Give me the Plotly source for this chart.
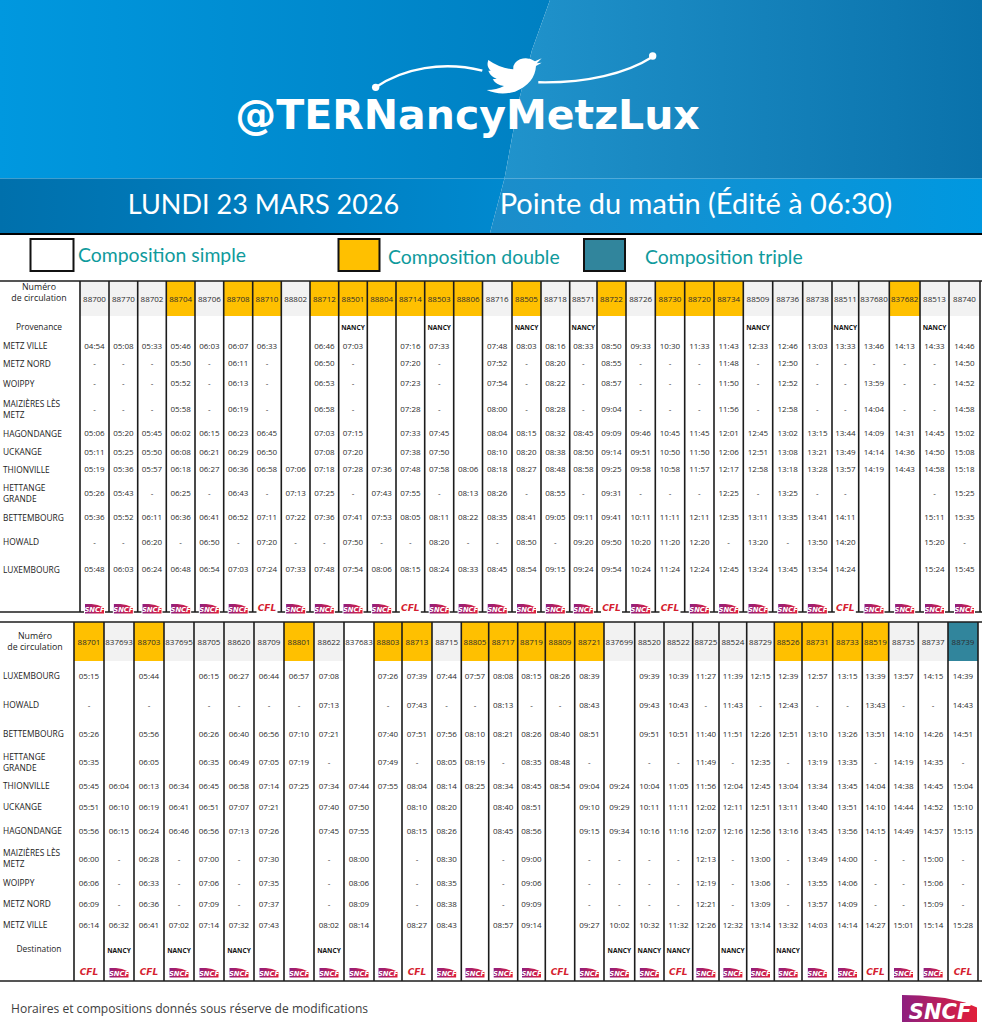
import plotly.graph_objects as go

# ---------- data ----------
TOP_TRAINS = ["88700","88770","88702","88704","88706","88708","88710","88802","88712","88501","88804","88714","88503","88806","88716","88505","88718","88571","88722","88726","88730","88720","88734","88509","88736","88738","88511","837680","837682","88513","88740"]
TOP_DOUBLE = ["88704","88708","88710","88712","88501","88804","88714","88503","88806","88505","88722","88730","88720","88734","837682"]
TOP_CFL = ["88710","88714","88722","88730","88511"]
TOP_ORIGIN_NANCY = ["88501","88503","88505","88571","88509","88511","88513"]

T_METZ_VILLE = ["04:54","05:08","05:33","05:46","06:03","06:07","06:33","","06:46","07:03","","07:16","07:33","","07:48","08:03","08:16","08:33","08:50","09:33","10:30","11:33","11:43","12:33","12:46","13:03","13:33","13:46","14:13","14:33","14:46"]
T_METZ_NORD = ["-","-","-","05:50","-","06:11","-","","06:50","-","","07:20","-","","07:52","-","08:20","-","08:55","-","-","-","11:48","-","12:50","-","-","-","-","-","14:50"]
T_WOIPPY = ["-","-","-","05:52","-","06:13","-","","06:53","-","","07:23","-","","07:54","-","08:22","-","08:57","-","-","-","11:50","-","12:52","-","-","13:59","-","-","14:52"]
T_MAIZIERES = ["-","-","-","05:58","-","06:19","-","","06:58","-","","07:28","-","","08:00","-","08:28","-","09:04","-","-","-","11:56","-","12:58","-","-","14:04","-","-","14:58"]
T_HAGONDANGE = ["05:06","05:20","05:45","06:02","06:15","06:23","06:45","","07:03","07:15","","07:33","07:45","","08:04","08:15","08:32","08:45","09:09","09:46","10:45","11:45","12:01","12:45","13:02","13:15","13:44","14:09","14:31","14:45","15:02"]
T_UCKANGE = ["05:11","05:25","05:50","06:08","06:21","06:29","06:50","","07:08","07:20","","07:38","07:50","","08:10","08:20","08:38","08:50","09:14","09:51","10:50","11:50","12:06","12:51","13:08","13:21","13:49","14:14","14:36","14:50","15:08"]
T_THIONVILLE = ["05:19","05:36","05:57","06:18","06:27","06:36","06:58","07:06","07:18","07:28","07:36","07:48","07:58","08:06","08:18","08:27","08:48","08:58","09:25","09:58","10:58","11:57","12:17","12:58","13:18","13:28","13:57","14:19","14:43","14:58","15:18"]
T_HETTANGE = ["05:26","05:43","-","06:25","-","06:43","-","07:13","07:25","-","07:43","07:55","-","08:13","08:26","-","08:55","-","09:31","-","-","-","12:25","-","13:25","-","-","","","-","15:25"]
T_BETTEMBOURG = ["05:36","05:52","06:11","06:36","06:41","06:52","07:11","07:22","07:36","07:41","07:53","08:05","08:11","08:22","08:35","08:41","09:05","09:11","09:41","10:11","11:11","12:11","12:35","13:11","13:35","13:41","14:11","","","15:11","15:35"]
T_HOWALD = ["-","-","06:20","-","06:50","-","07:20","-","-","07:50","-","-","08:20","-","-","08:50","-","09:20","09:50","10:20","11:20","12:20","-","13:20","-","13:50","14:20","","","15:20","-"]
T_LUXEMBOURG = ["05:48","06:03","06:24","06:48","06:54","07:03","07:24","07:33","07:48","07:54","08:06","08:15","08:24","08:33","08:45","08:54","09:15","09:24","09:54","10:24","11:24","12:24","12:45","13:24","13:45","13:54","14:24","","","15:24","15:45"]

BOT_TRAINS = ["88701","837693","88703","837695","88705","88620","88709","88801","88622","837683","88803","88713","88715","88805","88717","88719","88809","88721","837699","88520","88522","88725","88524","88729","88526","88731","88733","88519","88735","88737","88739"]
BOT_DOUBLE = ["88701","88703","88801","88803","88713","88805","88717","88719","88809","88721","88526","88731","88733","88519"]
BOT_TRIPLE = ["88739"]
BOT_WHITE = ["837683"]
BOT_CFL = ["88701","88703","88713","88809","88522","88519","88739"]
BOT_DEST_NANCY = ["837693","837695","88620","88622","837699","88520","88522","88524","88526"]

B_LUXEMBOURG = ["05:15","","05:44","","06:15","06:27","06:44","06:57","07:08","","07:26","07:39","07:44","07:57","08:08","08:15","08:26","08:39","","09:39","10:39","11:27","11:39","12:15","12:39","12:57","13:15","13:39","13:57","14:15","14:39"]
B_HOWALD = ["-","","-","","-","-","-","-","07:13","","-","07:43","-","-","08:13","-","-","08:43","","09:43","10:43","-","11:43","-","12:43","-","-","13:43","-","-","14:43"]
B_BETTEMBOURG = ["05:26","","05:56","","06:26","06:40","06:56","07:10","07:21","","07:40","07:51","07:56","08:10","08:21","08:26","08:40","08:51","","09:51","10:51","11:40","11:51","12:26","12:51","13:10","13:26","13:51","14:10","14:26","14:51"]
B_HETTANGE = ["05:35","","06:05","","06:35","06:49","07:05","07:19","-","","07:49","-","08:05","08:19","-","08:35","08:48","-","","-","-","11:49","-","12:35","-","13:19","13:35","-","14:19","14:35","-"]
B_THIONVILLE = ["05:45","06:04","06:13","06:34","06:45","06:58","07:14","07:25","07:34","07:44","07:55","08:04","08:14","08:25","08:34","08:45","08:54","09:04","09:24","10:04","11:05","11:56","12:04","12:45","13:04","13:34","13:45","14:04","14:38","14:45","15:04"]
B_UCKANGE = ["05:51","06:10","06:19","06:41","06:51","07:07","07:21","","07:40","07:50","","08:10","08:20","","08:40","08:51","","09:10","09:29","10:11","11:11","12:02","12:11","12:51","13:11","13:40","13:51","14:10","14:44","14:52","15:10"]
B_HAGONDANGE = ["05:56","06:15","06:24","06:46","06:56","07:13","07:26","","07:45","07:55","","08:15","08:26","","08:45","08:56","","09:15","09:34","10:16","11:16","12:07","12:16","12:56","13:16","13:45","13:56","14:15","14:49","14:57","15:15"]
B_MAIZIERES = ["06:00","-","06:28","-","07:00","-","07:30","","-","08:00","","-","08:30","","-","09:00","","-","-","-","-","12:13","-","13:00","-","13:49","14:00","-","-","15:00","-"]
B_WOIPPY = ["06:06","-","06:33","-","07:06","-","07:35","","-","08:06","","-","08:35","","-","09:06","","-","-","-","-","12:19","-","13:06","-","13:55","14:06","-","-","15:06","-"]
B_METZ_NORD = ["06:09","-","06:36","-","07:09","-","07:37","","-","08:09","","-","08:38","","-","09:09","","-","-","-","-","12:21","-","13:09","-","13:57","14:09","-","-","15:09","-"]
B_METZ_VILLE = ["06:14","06:32","06:41","07:02","07:14","07:32","07:43","","08:02","08:14","","08:27","08:43","","08:57","09:14","","09:27","10:02","10:32","11:32","12:26","12:32","13:14","13:32","14:03","14:14","14:27","15:01","15:14","15:28"]

TOP_ROWS = [T_METZ_VILLE,T_METZ_NORD,T_WOIPPY,T_MAIZIERES,T_HAGONDANGE,T_UCKANGE,T_THIONVILLE,T_HETTANGE,T_BETTEMBOURG,T_HOWALD,T_LUXEMBOURG]
TOP_LABELS = ["METZ VILLE","METZ NORD","WOIPPY","MAIZIÈRES LÈS<br>METZ","HAGONDANGE","UCKANGE","THIONVILLE","HETTANGE<br>GRANDE","BETTEMBOURG","HOWALD","LUXEMBOURG"]
BOT_ROWS = [B_LUXEMBOURG,B_HOWALD,B_BETTEMBOURG,B_HETTANGE,B_THIONVILLE,B_UCKANGE,B_HAGONDANGE,B_MAIZIERES,B_WOIPPY,B_METZ_NORD,B_METZ_VILLE]
BOT_LABELS = ["LUXEMBOURG","HOWALD","BETTEMBOURG","HETTANGE<br>GRANDE","THIONVILLE","UCKANGE","HAGONDANGE","MAIZIÈRES LÈS<br>METZ","WOIPPY","METZ NORD","METZ VILLE"]

# ---------- page layout (pixels) ----------
TOP_EDGES = [80,109,137.7,166.3,195,223.7,252.7,281.3,310,338.7,367.3,396,424.7,453.7,482.5,512,541,569.7,597,626,655.3,684.7,714,743.3,772.7,802.7,832,858.7,889.3,920,949,980]
BOT_EDGES = [74,104,134,164,194,224,254,284,314,344,374,402,432,461.3,488.7,517.7,545.3,574.7,604,634.7,664,692.7,719,746.7,774.3,802,832.7,862.3,888.7,918.3,948,978]
TOP_Y = [347,364,384,410,434,453,470,494,518,543,570]
TOP_LABEL_Y = [347,365,385,410.5,435,453,471,494.5,519,543,571]
BOT_Y = [677,706,735,763,787,808,832,860,884,905,926]
BOT_LABEL_Y = [677,706,735,763,787,808,832,859.5,884,905,926]
GOLD, TEAL, GREY = "#FFC000", "#31859C", "#F2F2F2"
TXT = "#2c2c2c"
FONT = "Open Sans"

fig = go.Figure()
shapes = []

def rect(x0, y0, x1, y1, fill, line=None, lw=0):
    shapes.append(dict(type="rect", x0=x0, y0=y0, x1=x1, y1=y1, xref="x", yref="y", layer="below",
                       fillcolor=fill, line=dict(color=line or fill, width=lw)))

def seg(x0, y0, x1, y1, w=1.6, c="#1c1c1c"):
    shapes.append(dict(type="line", x0=x0, y0=y0, x1=x1, y1=y1, xref="x", yref="y", layer="below",
                       line=dict(color=c, width=w)))

def gradient_poly(xs, ys, c0, c1):
    fig.add_trace(go.Scatter(x=xs, y=ys, mode="lines", fill="toself", line=dict(width=0), hoverinfo="skip",
                             fillgradient=dict(type="horizontal", colorscale=[[0, c0], [1, c1]]), showlegend=False))

def text(xs, ys, ts, size, color=TXT, family=FONT, pos="middle center", weight=None, style=None):
    f = dict(size=size, color=color, family=family)
    if weight: f["weight"] = weight
    if style: f["style"] = style
    fig.add_trace(go.Scatter(x=xs, y=ys, text=ts, mode="text", textposition=pos, textfont=f,
                             hoverinfo="skip", showlegend=False))

# ---------- banner ----------
gradient_poly([0, 550, 532, 519, 504.5, 0], [0, 0, 50, 100, 178.5, 178.5], "#0098DF", "#0080C2")
gradient_poly([550, 982, 982, 504.5, 519, 532], [0, 0, 178.5, 178.5, 100, 50], "#2093CC", "#0A72AB")
gradient_poly([0, 504.5, 490, 0], [178.5, 178.5, 233, 233], "#0070AC", "#0089CF")
gradient_poly([504.5, 982, 982, 490], [178.5, 178.5, 233, 233], "#1C8DCA", "#0098E0")

def P(X, Y):
    return f"{360 + X / 3:.1f},{40 + Y / 3:.1f}"

def bez(p0, p1, p2, p3):
    return f"M{P(*p0)} C{P(*p1)} {P(*p2)} {P(*p3)}"

for d in (bez((47, 142), (130, 85), (250, 62), (367, 92)), bez((535, 127), (680, 130), (800, 100), (878, 50))):
    shapes.append(dict(type="path", path=d, xref="x", yref="y", layer="above", line=dict(color="white", width=2.4)))
for cx, cy in ((47, 142), (878, 48)):
    x, y = 360 + cx / 3, 40 + cy / 3
    shapes.append(dict(type="circle", x0=x - 3.7, x1=x + 3.7, y0=y - 3.7, y1=y + 3.7, xref="x", yref="y",
                       layer="above", fillcolor="white", line=dict(width=0)))
bird = (f"M{P(545,55)} L{P(525,64)} Q{P(505,50)} {P(480,58)} Q{P(458,68)} {P(460,88)} Q{P(420,85)} {P(385,60)} "
        f"Q{P(378,80)} {P(392,92)} L{P(385,92)} Q{P(392,110)} {P(410,116)} L{P(398,118)} Q{P(408,135)} {P(432,138)} "
        f"Q{P(410,150)} {P(380,150)} Q{P(420,168)} {P(465,155)} Q{P(525,130)} {P(528,78)} L{P(545,68)} L{P(530,70)} Z")
shapes.append(dict(type="path", path=bird, xref="x", yref="y", layer="above", fillcolor="white", line=dict(width=0)))

text([467.5], [119], ["@TERNancyMetzLux"], 41, "white", "DejaVu Sans", weight=700)
text([263.5], [207], ["LUNDI 23 MARS 2026"], 27, "white", "Lato")
text([696], [207], ["Pointe du matin (Édité à 06:30)"], 29, "white", "Lato")

# ---------- legend ----------
seg(0, 234, 982, 234, 2, "#000000")
rect(30.5, 239, 73.5, 271, "white", "#111111", 2)
rect(338.5, 239, 379.5, 271, GOLD, "#111111", 2)
rect(584, 239, 625, 271, TEAL, "#111111", 2)
LEG = "#109A9C"
text([78, 388, 645], [257, 259, 259], ["Composition simple", "Composition double", "Composition triple"],
     19.4, LEG, "Lato", pos="middle right")

# ---------- tables ----------
def draw_table(trains, edges, rows, ys, labels, label_ys, y_top, y_band, y_bot, header_y, numero_ys, numero_x,
               gold, teal, white, cfl, nancy, nancy_y, side_label, side_y, logo_y):
    centers = [(a + b) / 2 for a, b in zip(edges[:-1], edges[1:])]
    for i, tr in enumerate(trains):
        fill = GOLD if tr in gold else TEAL if tr in teal else "white" if tr in white else GREY
        rect(edges[i], y_top, edges[i + 1], y_band, fill)
    for e in edges:
        seg(e, y_top, e, y_bot)
    seg(0, y_top, 982, y_top)
    seg(0, y_bot, 982, y_bot)
    text(centers, [header_y] * len(trains), trains, 8)
    xs, yy, ts = [], [], []
    for row, y in zip(rows, ys):
        for c, v in zip(centers, row):
            if v:
                xs.append(c); yy.append(y); ts.append(v)
    text(xs, yy, ts, 8)
    text([3] * len(labels), label_ys, labels, 8.4, "#1c1c1c", pos="middle right")
    text([numero_x, numero_x], numero_ys, ["Numéro", "de circulation"], 8.8, "#1c1c1c")
    text([39], [side_y], [side_label], 8.4, "#1c1c1c")
    nx = [centers[trains.index(t)] for t in nancy]
    text(nx, [nancy_y] * len(nx), ["NANCY"] * len(nx), 6.6, "#111111", weight=700)
    # operators' logos
    bx, by = [], []
    for c in centers:
        bx += [c - 10.5, c + 10.5, c + 10.5, c - 10.5, None]
        by += [logo_y - 6, logo_y - 6, logo_y + 5.5, logo_y + 5.5, None]
    fig.add_trace(go.Scatter(x=bx, y=by, mode="lines", fill="toself", fillcolor="white", line=dict(width=0),
                             hoverinfo="skip", showlegend=False))
    sx, cx = [], []
    for c, tr in zip(centers, trains):
        (cx if tr in cfl else sx).append(c)
        if tr not in cfl:
            gradient_poly([c - 9.5, c - 3, c + 3, c + 9.5, c + 9.5, c - 9.5],
                          [logo_y - 5, logo_y - 5, logo_y - 4, logo_y - 1.5, logo_y + 4.5, logo_y + 4.5],
                          "#8E1F7F", "#E11F3A")
    text(sx, [logo_y + 1] * len(sx), ["SNCF"] * len(sx), 6.8, "white", "DejaVu Sans", weight=700, style="italic")
    text(cx, [logo_y] * len(cx), ["CFL"] * len(cx), 9, "#D5202F", "DejaVu Sans", weight=700, style="italic")

draw_table(TOP_TRAINS, TOP_EDGES, TOP_ROWS, TOP_Y, TOP_LABELS, TOP_LABEL_Y, 281, 316, 612, 300, [287.5, 298.5], 39,
           TOP_DOUBLE, [], [], TOP_CFL, TOP_ORIGIN_NANCY, 328, "Provenance", 328, 609)
draw_table(BOT_TRAINS, BOT_EDGES, BOT_ROWS, BOT_Y, BOT_LABELS, BOT_LABEL_Y, 622, 661, 981, 642.5, [636.5, 647.5], 35,
           BOT_DOUBLE, BOT_TRIPLE, BOT_WHITE, BOT_CFL, BOT_DEST_NANCY, 951, "Destination", 949.5, 973)

# ---------- footer ----------
text([11], [1010], ["Horaires et compositions donnés sous réserve de modifications"], 12.07, "#404040", pos="middle right")
gradient_poly([902, 920, 945, 965, 977, 977, 902], [995, 995.5, 998, 1002.5, 1007.5, 1022, 1022], "#8E1F7F", "#E11F3A")
text([940], [1014], ["SNCF"], 21, "white", "DejaVu Sans", weight=700, style="italic")

fig.update_layout(
    width=982, height=1022, margin=dict(l=0, r=0, t=0, b=0), paper_bgcolor="white", plot_bgcolor="white",
    xaxis=dict(range=[0, 982], visible=False, fixedrange=True),
    yaxis=dict(range=[1022, 0], visible=False, fixedrange=True),
    showlegend=False, shapes=shapes,
)
fig.write_html("out.html", config={"displayModeBar": False},
               post_script="document.body.style.margin='0';")
